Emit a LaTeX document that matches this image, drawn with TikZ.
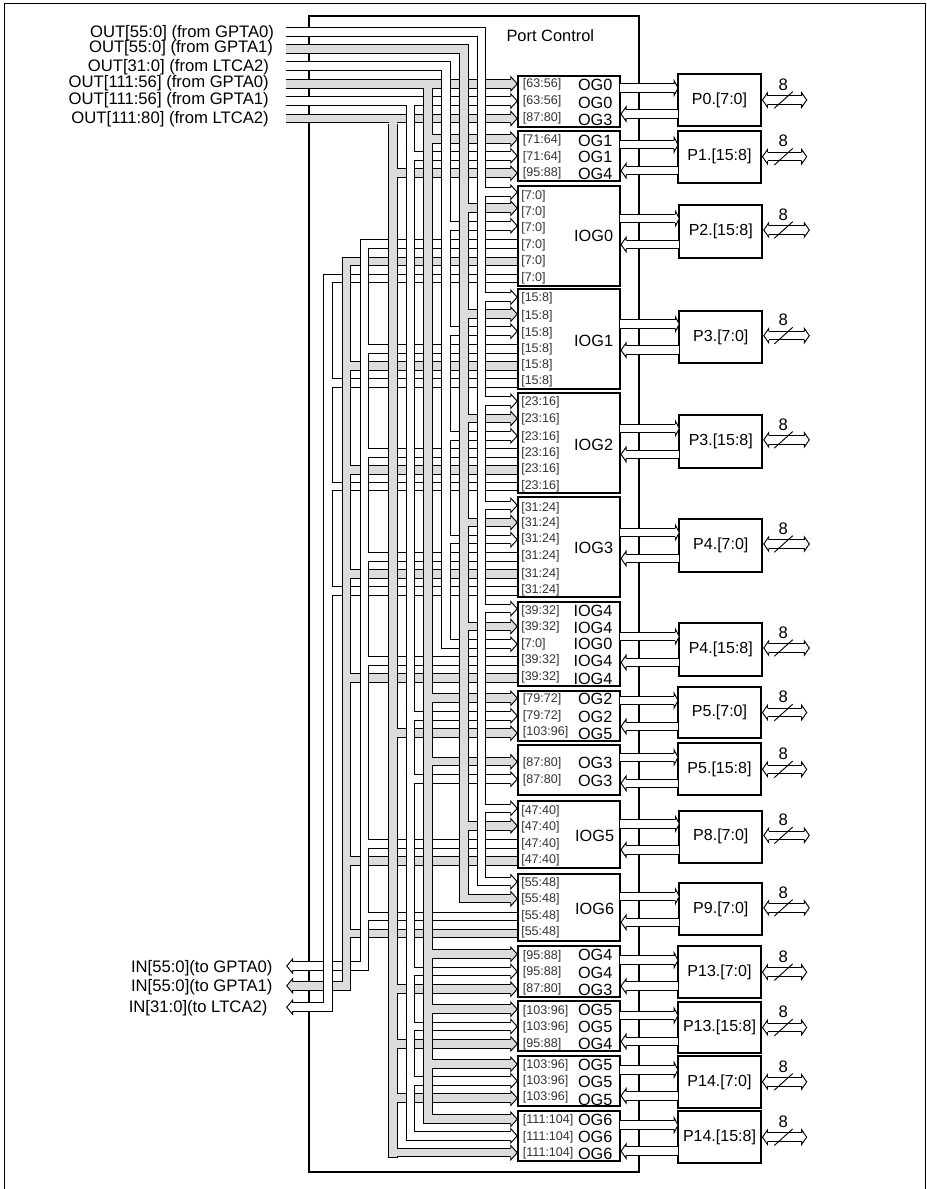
\documentclass[tikz,border=0pt]{standalone}
\usepackage{fontspec}
\setmainfont{Liberation Sans}
\pgfdeclarelayer{boxl}\pgfdeclarelayer{rowsl}\pgfdeclarelayer{vertl}\pgfdeclarelayer{openl}
\pgfsetlayers{boxl,rowsl,vertl,openl,main}
\definecolor{gy}{HTML}{DCDCDC}
\tikzset{
  busout/.style={line width=7.1pt,draw=black},
  busin/.style={line width=5.6pt,draw=#1},
  headline/.style={line width=.7pt,draw=black,miter limit=10},
  sm/.style={font=\fontsize{9.4}{10}\selectfont,anchor=base west,inner sep=0pt,yshift=-3.4pt,text=black!80},
  lg/.style={font=\fontsize{12.2}{14}\selectfont,anchor=base east,inner sep=0pt,yshift=-4.4pt},
  toplab/.style={font=\fontsize{12.5}{14}\selectfont,anchor=base east,inner sep=0pt,yshift=-4.5pt},
  blockbox/.style={draw=black,fill=white,inner sep=0pt,outer sep=0pt},
  portbox/.style={draw=black,line width=1.6pt,fill=white,inner sep=0pt,outer sep=0pt,font=\fontsize{12}{14}\selectfont},
  widthlab/.style={font=\fontsize{12.5}{14}\selectfont,inner sep=0pt},
}
% arrow head: #1 tip coordinate, #2 signed length back to the shoulder, #3 fill
\newcommand\BusHead[3]{%
  \filldraw[headline,fill=#3] ([shift={(#2,-4.25)}]#1) -- ([shift={(#2,-7.2)}]#1) -- (#1) -- ([shift={(#2,7.2)}]#1) -- ([shift={(#2,4.25)}]#1);
}
% block node
\newcommand\blk[6][1.75pt]{%
  \node[blockbox,line width=#1,minimum width={(#5-#3)*0.75pt},minimum height={(#6-#4)*0.75pt}] (#2) at ({(#3+#5)/2},{(#4+#6)/2}) {};
}
% vertical: #1 vertical coordinate, #2 y1, #3 y2, #4 colour
\newcommand\vbus[4]{%
  \coordinate (va) at (#1 |- 0,#2);
  \coordinate (vb) at (#1 |- 0,#3);
  \begin{pgfonlayer}{vertl}
    \draw[busout] (va) -- (vb);
    \draw[busin=#4] ([yshift=-0.75pt]va) -- ([yshift=0.75pt]vb);
  \end{pgfonlayer}
}
% branch with arrow head into a block
\newcommand\inrow[4]{%
  \coordinate (s) at (#1 |- 0,#3);
  \coordinate (e) at (#2.west |- 0,#3);
  \coordinate (tp) at ([xshift=-0.8pt]e);
  \begin{pgfonlayer}{rowsl}
    \draw[busout] ([xshift=-3.56pt]s) -- ([xshift=-5.4pt]e);
    \draw[busin=#4] ([xshift=-3.56pt]s) -- ([xshift=-5.2pt]e);
    \BusHead{tp}{-6.5}{#4}
  \end{pgfonlayer}
  \begin{pgfonlayer}{openl}
    \draw[busin=#4] (s) -- ([xshift=4.2pt]s);
  \end{pgfonlayer}
}
% branch from a return bus, ends on the block edge
\newcommand\outrow[4]{%
  \coordinate (s) at (#1 |- 0,#3);
  \coordinate (e) at (#2.west |- 0,#3);
  \begin{pgfonlayer}{rowsl}
    \draw[busout] ([xshift=-3.56pt]s) -- (e);
    \draw[busin=#4] ([xshift=-3.56pt]s) -- (e);
  \end{pgfonlayer}
  \begin{pgfonlayer}{openl}
    \draw[busin=#4] (s) -- ([xshift=4.2pt]s);
  \end{pgfonlayer}
}
% labels
\newcommand\labs[5]{%
  \foreach \yy/\lb [count=\ii] in {#5} {\node[#1] (#2-#3\ii) at (#4,\yy) {\lb};}
}
% port
\def\gA{\def\dout{12}\def\dret{14}\def\dcen{0}\def\xr{806.7}}
\def\gB{\def\dout{13}\def\dret{13}\def\dcen{1.5}\def\xr{809.3}}
\newcommand\port[7]{% name,x1,y1,y2,text,src,group
  #7%
  \pgfmathsetmacro\cc{(#3+#4)/2}
  \pgfmathsetmacro\yo{\cc-\dout}
  \pgfmathsetmacro\yr{\cc+\dret}
  \pgfmathsetmacro\yc{\cc-\dcen}
  \pgfmathsetmacro\yt{\yc-15.5}
  \pgfmathsetmacro\ysa{\yc+8.3}
  \pgfmathsetmacro\ysb{\yc-8.3}
  \node[portbox,minimum width=62.25pt,minimum height={(#4-#3)*0.75pt}] (#1) at ({#2+41.5},\cc) {#5};
  \coordinate (oa) at (#6.east |- 0,\yo);
  \coordinate (ob) at (#1.west |- 0,\yo);
  \coordinate (ra) at (#1.west |- 0,\yr);
  \coordinate (rb) at (#6.east |- 0,\yr);
  \coordinate (rt) at ([xshift=.8pt]rb);
  \draw[busout] (oa) -- ([xshift=-3pt]ob);
  \draw[busin=white] (oa) -- ([xshift=-2.8pt]ob);
  \BusHead{ob}{-3.8}{white}
  \draw[busout] (ra) -- ([xshift=3.9pt]rb);
  \draw[busin=white] (ra) -- ([xshift=3.7pt]rb);
  \BusHead{rt}{5}{white}
  \coordinate (pe) at (#1.east |- 0,\yc);
  \coordinate (#1-l) at ([xshift=1.1pt]pe);
  \coordinate (#1-r) at (\xr,\yc);
  \draw[busout] ([xshift=3.8pt]#1-l) -- ([xshift=-3.6pt]#1-r);
  \draw[busin=white] ([xshift=3.6pt]#1-l) -- ([xshift=-3.4pt]#1-r);
  \BusHead{#1-l}{5}{white}
  \BusHead{#1-r}{-5}{white}
  \draw[line width=.7pt] (774.3,\ysa) -- (792.7,\ysb);
  \node[widthlab] (#1-w) at (783.3,\yt) {8};
}
\begin{document}
\begin{tikzpicture}[x=0.75pt,y=-0.75pt]
\useasboundingbox (0,0) rectangle (927,1189);
\draw[line width=.8pt] (4.5,1189) -- (4.5,3.2) -- (925.7,3.2) -- (925.7,1189);

% Port Control box
\begin{pgfonlayer}{boxl}
  \node[draw=black,line width=1.6pt,inner sep=0pt,outer sep=0pt,minimum width={330*0.75pt},minimum height={1155.7*0.75pt}] (pc) at (474.3,593.8) {};
\end{pgfonlayer}
\node[font=\fontsize{12.3}{14}\selectfont,inner sep=0pt] (pctext) at (550.3,35.7) {Port Control};

% blocks
\blk{OGa}{518.3}{76}{620}{126.7}
\blk{OGb}{518.3}{131}{620}{181}
\blk[1.4pt]{IOa}{518.3}{186}{620}{286}
\blk[1.4pt]{IOb}{518.3}{289.3}{620}{389}
\blk[1.4pt]{IOc}{518.3}{393.3}{620}{492.7}
\blk[1.4pt]{IOd}{518.3}{497.3}{620}{596.7}
\blk{IOe}{518.3}{601.7}{620}{686}
\blk{OGc}{518.3}{690.7}{620}{740.7}
\blk{OGd}{518.3}{745}{620}{795.3}
\blk[1.4pt]{IOf}{518.3}{801}{620}{868.3}
\blk[1.4pt]{IOg}{518.3}{874}{620}{941}
\blk{OGe}{518.3}{946.3}{620}{996.7}
\blk{OGf}{518.3}{1001}{620}{1051}
\blk{OGg}{518.3}{1056}{620}{1106}
\blk{OGh}{518.3}{1110.7}{620}{1161}

% vertical positions
\coordinate (V1) at (481.7,0);
\coordinate (V2) at (464,0);
\coordinate (V3) at (446,0);
\coordinate (V4) at (428,0);
\coordinate (V5) at (410.3,0);
\coordinate (V6) at (393,0);
\coordinate (V7) at (364.5,0);
\coordinate (V8) at (346.3,0);
\coordinate (V9) at (327.8,0);

% free ends on the left
\coordinate (o1) at (286,31.8);
\coordinate (o2) at (286,48.8);
\coordinate (o3) at (286,66);
\coordinate (o4) at (286,83.8);
\coordinate (o5) at (286,101);
\coordinate (o6) at (286,118.5);
\coordinate (i7) at (286.7,966);
\coordinate (i8) at (286.7,985.8);
\coordinate (i9) at (286.7,1007.2);

% OUT arms that turn down
\newcommand\armout[3]{%
  \coordinate (c) at (#2 |- #1);
  \begin{pgfonlayer}{rowsl}
    \draw[busout] (#1) -- ([xshift=3.56pt]c);
    \draw[busin=#3] (#1) -- ([xshift=3.56pt]c);
  \end{pgfonlayer}
  \begin{pgfonlayer}{openl}
    \draw[busin=#3] ([xshift=-4.2pt]c) -- (c);
  \end{pgfonlayer}
}
\armout{o1}{V1}{white}
\armout{o2}{V2}{gy}
\armout{o3}{V3}{white}
\vbus{V1}{27.05}{886.45}{white}
\vbus{V2}{44.05}{903.45}{gy}
\vbus{V3}{61.25}{648.95}{white}

% OUT buses that run straight to the first block
\newcommand\straight[3]{%
  \coordinate (e) at (OGa.west |- #1);
  \coordinate (tp) at ([xshift=-0.8pt]e);
  \begin{pgfonlayer}{rowsl}
    \draw[busout] (#1) -- ([xshift=-5.4pt]e);
    \draw[busin=#3] (#1) -- ([xshift=-5.2pt]e);
    \BusHead{tp}{-6.5}{#3}
  \end{pgfonlayer}
  \coordinate (c) at (#2 |- #1);
  \begin{pgfonlayer}{openl}
    \draw[busin=#3] ([yshift=-2pt]c) -- ([yshift=-4.5pt]c);
  \end{pgfonlayer}
}
\straight{o4}{V4}{gy}
\straight{o5}{V5}{white}
\straight{o6}{V6}{gy}
\vbus{V4}{88.8}{1124.0}{gy}
\vbus{V5}{106.0}{1140.6}{white}
\vbus{V6}{123.5}{1157.5}{gy}

% return arms with left arrow heads
\newcommand\armin[3]{%
  \coordinate (c) at (#2 |- #1);
  \begin{pgfonlayer}{rowsl}
    \draw[busout] ([xshift=3.6pt]#1) -- ([xshift=3.56pt]c);
    \draw[busin=#3] ([xshift=3.4pt]#1) -- ([xshift=3.56pt]c);
    \BusHead{#1}{6}{#3}
  \end{pgfonlayer}
  \begin{pgfonlayer}{openl}
    \draw[busin=#3] ([xshift=-4.2pt]c) -- (c);
  \end{pgfonlayer}
}
\armin{i7}{V7}{white}
\armin{i8}{V8}{gy}
\armin{i9}{V9}{white}
\vbus{V7}{239.25}{970.75}{white}
\vbus{V8}{256.75}{990.55}{gy}
\vbus{V9}{273.55}{1011.95}{white}

% branches with arrow heads
\inrow{V1}{IOa}{192.2}{white}
\inrow{V1}{IOb}{297.2}{white}
\inrow{V1}{IOc}{401.2}{white}
\inrow{V1}{IOd}{505.3}{white}
\inrow{V1}{IOe}{608.7}{white}
\inrow{V1}{IOf}{808.3}{white}
\inrow{V1}{IOg}{881.7}{white}
\inrow{V2}{IOa}{208.2}{gy}
\inrow{V2}{IOb}{314.2}{gy}
\inrow{V2}{IOc}{418.5}{gy}
\inrow{V2}{IOd}{522.5}{gy}
\inrow{V2}{IOe}{626.5}{gy}
\inrow{V2}{IOf}{825.8}{gy}
\inrow{V2}{IOg}{898.7}{gy}
\inrow{V3}{IOa}{225.8}{white}
\inrow{V3}{IOb}{331.2}{white}
\inrow{V3}{IOc}{435.8}{white}
\inrow{V3}{IOd}{539.7}{white}
\inrow{V3}{IOe}{644.2}{white}
\inrow{V4}{OGb}{139.2}{gy}
\inrow{V4}{OGc}{698.2}{gy}
\inrow{V4}{OGd}{761.7}{gy}
\inrow{V4}{OGe}{954.2}{gy}
\inrow{V4}{OGf}{1009.2}{gy}
\inrow{V4}{OGg}{1064.2}{gy}
\inrow{V4}{OGh}{1119.2}{gy}
\inrow{V5}{OGb}{155.8}{white}
\inrow{V5}{OGc}{715.8}{white}
\inrow{V5}{OGd}{779.2}{white}
\inrow{V5}{OGe}{971.5}{white}
\inrow{V5}{OGf}{1026.5}{white}
\inrow{V5}{OGg}{1080.8}{white}
\inrow{V5}{OGh}{1135.8}{white}
\inrow{V6}{OGb}{173.2}{gy}
\inrow{V6}{OGc}{733.2}{gy}
\inrow{V6}{OGe}{989.2}{gy}
\inrow{V6}{OGf}{1043.8}{gy}
\inrow{V6}{OGg}{1098.2}{gy}
\inrow{V6}{OGh}{1152.7}{gy}

% branches of the return buses
\outrow{V7}{IOa}{244}{white}
\outrow{V7}{IOb}{348.8}{white}
\outrow{V7}{IOc}{453}{white}
\outrow{V7}{IOd}{557.2}{white}
\outrow{V7}{IOe}{660.8}{white}
\outrow{V7}{IOf}{843.8}{white}
\outrow{V7}{IOg}{916.5}{white}
\outrow{V8}{IOa}{261.5}{gy}
\outrow{V8}{IOb}{365.8}{gy}
\outrow{V8}{IOc}{470}{gy}
\outrow{V8}{IOd}{574}{gy}
\outrow{V8}{IOe}{678.2}{gy}
\outrow{V8}{IOf}{860.8}{gy}
\outrow{V8}{IOg}{933.5}{gy}
\outrow{V9}{IOa}{278.3}{white}
\outrow{V9}{IOb}{382.8}{white}
\outrow{V9}{IOc}{486.5}{white}
\outrow{V9}{IOd}{590.8}{white}

% left labels
\node[toplab] (t1) at (274.3,31.7) {OUT[55:0] (from GPTA0)};
\node[toplab] (t2) at (273.3,46.7) {OUT[55:0] (from GPTA1)};
\node[toplab] (t3) at (269.3,65) {OUT[31:0] (from LTCA2)};
\node[toplab] (t4) at (269,81.7) {OUT[111:56] (from GPTA0)};
\node[toplab] (t5) at (269,98.3) {OUT[111:56] (from GPTA1)};
\node[toplab] (t6) at (269,117.3) {OUT[111:80] (from LTCA2)};
\node[toplab] (t7) at (272.7,966.7) {IN[55:0](to GPTA0)};
\node[toplab] (t8) at (272.7,985.7) {IN[55:0](to GPTA1)};
\node[toplab] (t9) at (267.7,1006.7) {IN[31:0](to LTCA2)};

% block labels
\labs{sm}{OGa}{s}{522.7}{83/{[63:56]},100/{[63:56]},116.7/{[87:80]}}
\labs{lg}{OGa}{b}{612.7}{85/OG0,102.3/OG0,119.3/OG3}
\labs{sm}{OGb}{s}{522.7}{139.3/{[71:64]},155.7/{[71:64]},171.7/{[95:88]}}
\labs{lg}{OGb}{b}{612.7}{140.7/OG1,156.7/OG1,174/OG4}
\labs{sm}{IOa}{s}{521}{195/{[7:0]},210.7/{[7:0]},227.3/{[7:0]},244/{[7:0]},260/{[7:0]},276.7/{[7:0]}}
\labs{lg}{IOa}{b}{613.3}{235.7/IOG0}
\labs{sm}{IOb}{s}{521}{297.3/{[15:8]},315/{[15:8]},331.7/{[15:8]},348.3/{[15:8]},364/{[15:8]},380/{[15:8]}}
\labs{lg}{IOb}{b}{613.3}{340.7/IOG1}
\labs{sm}{IOc}{s}{521}{400.7/{[23:16]},418.3/{[23:16]},435.7/{[23:16]},451.7/{[23:16]},468.3/{[23:16]},485/{[23:16]}}
\labs{lg}{IOc}{b}{613.3}{444.3/IOG2}
\labs{sm}{IOd}{s}{521}{506.7/{[31:24]},522.3/{[31:24]},538.3/{[31:24]},555.3/{[31:24]},572.7/{[31:24]},589.3/{[31:24]}}
\labs{lg}{IOd}{b}{613.3}{547.7/IOG3}
\labs{sm}{IOe}{s}{521}{610/{[39:32]},626/{[39:32]},642.7/{[7:0]},659.3/{[39:32]},676/{[39:32]}}
\labs{lg}{IOe}{b}{612.7}{610.7/IOG4,627.3/IOG4,644/IOG0,660.3/IOG4,678.3/IOG4}
\labs{sm}{OGc}{s}{522.7}{698.3/{[79:72]},715/{[79:72]},731/{[103:96]}}
\labs{lg}{OGc}{b}{612.7}{699/OG2,716.7/OG2,733.3/OG5}
\labs{sm}{OGd}{s}{522.7}{762.3/{[87:80]},779/{[87:80]}}
\labs{lg}{OGd}{b}{612.7}{762.3/OG3,780.7/OG3}
\labs{sm}{IOf}{s}{521}{810/{[47:40]},826/{[47:40]},843.3/{[47:40]},858.7/{[47:40]}}
\labs{lg}{IOf}{b}{614.3}{835.7/IOG5}
\labs{sm}{IOg}{s}{521}{882/{[55:48]},898/{[55:48]},914.7/{[55:48]},931.3/{[55:48]}}
\labs{lg}{IOg}{b}{614.3}{909/IOG6}
\labs{sm}{OGe}{s}{522.7}{955/{[95:88]},971/{[95:88]},988/{[87:80]}}
\labs{lg}{OGe}{b}{612.7}{955/OG4,972.7/OG4,989.3/OG3}
\labs{sm}{OGf}{s}{522.7}{1010/{[103:96]},1026/{[103:96]},1043/{[95:88]}}
\labs{lg}{OGf}{b}{612.7}{1009.3/OG5,1026.7/OG5,1044/OG4}
\labs{sm}{OGg}{s}{522.7}{1064/{[103:96]},1080/{[103:96]},1096/{[103:96]}}
\labs{lg}{OGg}{b}{612.7}{1065/OG5,1081.7/OG5,1099.3/OG5}
\labs{sm}{OGh}{s}{522.7}{1119/{[111:104]},1135.7/{[111:104]},1152.3/{[111:104]}}
\labs{lg}{OGh}{b}{612.7}{1120/OG6,1136.7/OG6,1153.3/OG6}

% ports
\port{Pa}{678}{74}{126}{P0.[7:0]}{OGa}{\gA}
\port{Pb}{678}{130.7}{182.7}{P1.[15:8]}{OGb}{\gA}
\port{Pc}{679.3}{205}{258}{P2.[15:8]}{IOa}{\gB}
\port{Pd}{679.3}{311}{363.3}{P3.[7:0]}{IOb}{\gB}
\port{Pe}{679.3}{415}{467.7}{P3.[15:8]}{IOc}{\gB}
\port{Pf}{679.3}{519.3}{571.7}{P4.[7:0]}{IOd}{\gB}
\port{Pg}{679.3}{623.3}{675.7}{P4.[15:8]}{IOe}{\gB}
\port{Ph}{678}{686.7}{738.3}{P5.[7:0]}{OGc}{\gA}
\port{Pi}{678}{743.3}{795.3}{P5.[15:8]}{OGd}{\gA}
\port{Pj}{679.3}{810.7}{863}{P8.[7:0]}{IOf}{\gB}
\port{Pk}{679.3}{883.3}{935.3}{P9.[7:0]}{IOg}{\gB}
\port{Pl}{678}{946}{998.3}{P13.[7:0]}{OGe}{\gA}
\port{Pm}{678}{1001.7}{1053.3}{P13.[15:8]}{OGf}{\gA}
\port{Pn}{678}{1056}{1107.7}{P14.[7:0]}{OGg}{\gA}
\port{Po}{678}{1111}{1163.3}{P14.[15:8]}{OGh}{\gA}
\end{tikzpicture}
\end{document}
